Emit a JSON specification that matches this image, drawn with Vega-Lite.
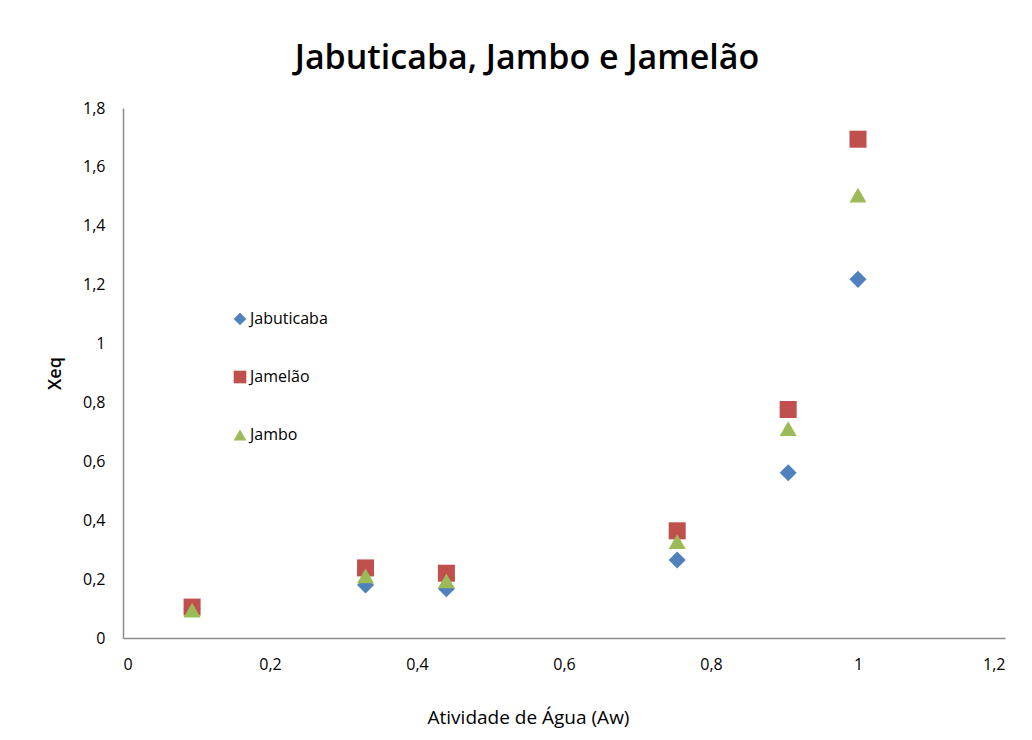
{
  "$schema": "https://vega.github.io/schema/vega-lite/v6.json",
  "autosize": {"type": "none"},
  "width": 882,
  "height": 530,
  "padding": {"left": 123, "top": 108, "right": 27, "bottom": 102},
  "background": "white",
  "title": {
    "text": "Jabuticaba, Jambo e Jamelão",
    "font": "Open Sans",
    "fontSize": 34,
    "fontWeight": 600,
    "color": "#000000",
    "anchor": "middle",
    "dx": -37,
    "offset": 24
  },
  "data": {
    "values": [
      {"aw": 0.094, "xeq": 0.10, "fruta": "Jabuticaba"},
      {"aw": 0.330, "xeq": 0.180, "fruta": "Jabuticaba"},
      {"aw": 0.440, "xeq": 0.167, "fruta": "Jabuticaba"},
      {"aw": 0.754, "xeq": 0.265, "fruta": "Jabuticaba"},
      {"aw": 0.905, "xeq": 0.561, "fruta": "Jabuticaba"},
      {"aw": 1.000, "xeq": 1.218, "fruta": "Jabuticaba"},
      {"aw": 0.094, "xeq": 0.105, "fruta": "Jamelão"},
      {"aw": 0.330, "xeq": 0.238, "fruta": "Jamelão"},
      {"aw": 0.440, "xeq": 0.220, "fruta": "Jamelão"},
      {"aw": 0.754, "xeq": 0.364, "fruta": "Jamelão"},
      {"aw": 0.905, "xeq": 0.776, "fruta": "Jamelão"},
      {"aw": 1.000, "xeq": 1.694, "fruta": "Jamelão"},
      {"aw": 0.094, "xeq": 0.095, "fruta": "Jambo"},
      {"aw": 0.330, "xeq": 0.211, "fruta": "Jambo"},
      {"aw": 0.440, "xeq": 0.194, "fruta": "Jambo"},
      {"aw": 0.754, "xeq": 0.327, "fruta": "Jambo"},
      {"aw": 0.905, "xeq": 0.711, "fruta": "Jambo"},
      {"aw": 1.000, "xeq": 1.504, "fruta": "Jambo"}
    ]
  },
  "mark": {"type": "point", "filled": true, "opacity": 1, "size": 290},
  "encoding": {
    "x": {
      "field": "aw",
      "type": "quantitative",
      "scale": {"domain": [0, 1.2], "nice": false, "zero": true},
      "axis": {
        "title": "Atividade de Água (Aw)",
        "values": [0, 0.2, 0.4, 0.6, 0.8, 1, 1.2],
        "labelExpr": "replace(format(datum.value, '~g'), '.', ',')",
        "titleX": 405,
        "titlePadding": 36,
        "titleFontWeight": "normal",
        "titleFontSize": 19
      }
    },
    "y": {
      "field": "xeq",
      "type": "quantitative",
      "scale": {"domain": [0, 1.8], "nice": false},
      "axis": {
        "title": "Xeq",
        "values": [0, 0.2, 0.4, 0.6, 0.8, 1, 1.2, 1.4, 1.6, 1.8],
        "labelExpr": "replace(format(datum.value, '~g'), '.', ',')",
        "titlePadding": 18
      }
    },
    "color": {
      "field": "fruta",
      "type": "nominal",
      "scale": {"domain": ["Jabuticaba", "Jamelão", "Jambo"], "range": ["#4F81BD", "#C0504D", "#9BBB59"]},
      "legend": {
        "title": null,
        "orient": "none",
        "legendX": 109,
        "legendY": 203,
        "rowPadding": 42,
        "symbolSize": 160,
        "labelFont": "Open Sans",
        "labelFontSize": 16,
        "labelColor": "#000000",
        "labelOffset": 2,
        "symbolOffset": 0
      }
    },
    "shape": {
      "field": "fruta",
      "type": "nominal",
      "scale": {"domain": ["Jabuticaba", "Jamelão", "Jambo"], "range": ["diamond", "square", "triangle-up"]},
      "legend": null
    }
  },
  "config": {
    "view": {"stroke": null},
    "axis": {
      "grid": false,
      "ticks": false,
      "domainColor": "#8c8c8c",
      "domainWidth": 1.5,
      "labelFont": "Open Sans",
      "labelFontSize": 16,
      "labelColor": "#000000",
      "labelPadding": 18,
      "titleFont": "Open Sans",
      "titleFontSize": 18,
      "titleFontWeight": 600,
      "titleColor": "#000000"
    }
  }
}
